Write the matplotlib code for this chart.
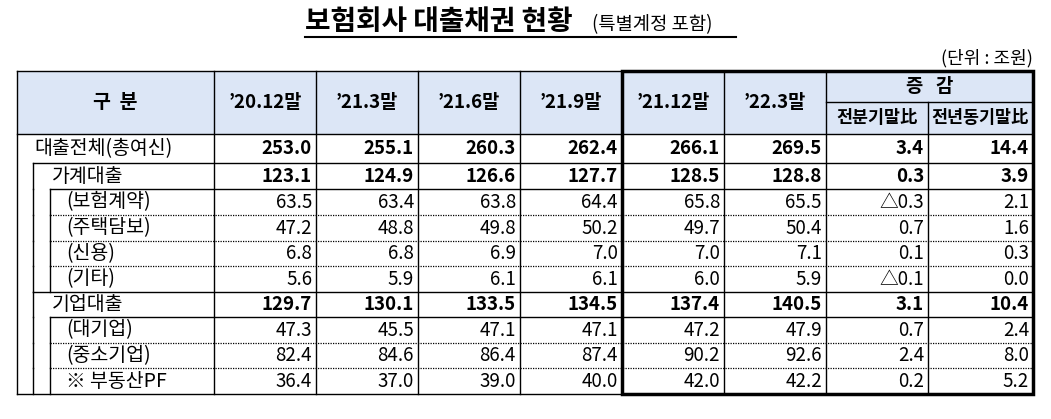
import matplotlib
matplotlib.use("Agg")
import matplotlib.pyplot as plt
from matplotlib.patches import Rectangle

plt.rcParams['font.family'] = ['Noto Sans CJK KR', 'DejaVu Sans']

periods = ["’20.12말", "’21.3말", "’21.6말", "’21.9말", "’21.12말", "’22.3말"]
change_labels = ["전분기말比", "전년동기말比"]
row_labels = ["대출전체(총여신)", "가계대출", "(보험계약)", "(주택담보)", "(신용)", "(기타)",
              "기업대출", "(대기업)", "(중소기업)", "※ 부동산PF"]
row_level = [0, 1, 2, 2, 2, 2, 1, 2, 2, 2]
values = [
    [253.0, 255.1, 260.3, 262.4, 266.1, 269.5, 3.4, 14.4],
    [123.1, 124.9, 126.6, 127.7, 128.5, 128.8, 0.3, 3.9],
    [63.5, 63.4, 63.8, 64.4, 65.8, 65.5, -0.3, 2.1],
    [47.2, 48.8, 49.8, 50.2, 49.7, 50.4, 0.7, 1.6],
    [6.8, 6.8, 6.9, 7.0, 7.0, 7.1, 0.1, 0.3],
    [5.6, 5.9, 6.1, 6.1, 6.0, 5.9, -0.1, 0.0],
    [129.7, 130.1, 133.5, 134.5, 137.4, 140.5, 3.1, 10.4],
    [47.3, 45.5, 47.1, 47.1, 47.2, 47.9, 0.7, 2.4],
    [82.4, 84.6, 86.4, 87.4, 90.2, 92.6, 2.4, 8.0],
    [36.4, 37.0, 39.0, 40.0, 42.0, 42.2, 0.2, 5.2],
]

fig = plt.figure(figsize=(10.51, 4.19), dpi=100)
ax = fig.add_axes([0, 0, 1, 1])
ax.set_xlim(0, 1051); ax.set_ylim(419, 0); ax.axis('off')

cols = [17, 214, 316, 418, 520, 622, 724, 826, 928, 1033]
ytop, ysub, yhead = 71, 102, 134
rows = [134, 163, 189, 215, 241, 266, 292, 317, 343, 368, 394]
indent = [17, 33, 50]
k = dict(color='black', lw=1.0)

ax.add_patch(Rectangle((cols[0], ytop), cols[-1]-cols[0], yhead-ytop, fc='#dce6f6', ec='none'))
ax.plot([cols[0], cols[-1]], [ytop, ytop], **k)
ax.plot([cols[0], cols[-1]], [yhead, yhead], **k)
for i, c in enumerate(cols):
    if i == 8:
        ax.plot([c, c], [ysub, rows[-1]], **k)
    else:
        ax.plot([c, c], [ytop, rows[-1]], **k)
ax.plot([cols[7], cols[9]], [ysub, ysub], **k)
ax.add_patch(Rectangle((cols[5], ytop), cols[9]-cols[5], rows[-1]-ytop, fc='none', ec='black', lw=2.5))

ax.text((cols[0]+cols[1])/2, (ytop+yhead)/2, "구  분", ha='center', va='center', fontsize=14, fontweight='bold')
for j, p in enumerate(periods):
    ax.text((cols[j+1]+cols[j+2])/2, (ytop+yhead)/2, p, ha='center', va='center', fontsize=13.5, fontweight='bold')
ax.text((cols[7]+cols[9])/2, (ytop+ysub)/2, "증   감", ha='center', va='center', fontsize=13.5, fontweight='bold')
for j, lab in enumerate(change_labels):
    ax.text((cols[7+j]+cols[8+j])/2, (ysub+yhead)/2, lab, ha='center', va='center', fontsize=12.5, fontweight='bold')

for r, (lab, lvl, vals) in enumerate(zip(row_labels, row_level, values)):
    y0, y1 = rows[r], rows[r+1]
    yc = (y0+y1)/2
    bold = lvl < 2
    if r > 0:
        if lvl == 2 and row_level[r-1] == 2:
            ax.plot([indent[2], cols[-1]], [y0, y0], color='black', lw=0.9, ls=(0, (1, 1)))
        else:
            ax.plot([indent[lvl], cols[-1]], [y0, y0], **k)
    if lvl >= 1:
        ax.plot([indent[1], indent[1]], [y0, y1], **k)
    if lvl == 2:
        ax.plot([indent[2], indent[2]], [y0, y1], **k)
    tx = [34, 52, 66][lvl]
    ax.text(tx, yc, lab, ha='left', va='center', fontsize=14)
    for j, v in enumerate(vals):
        s = f"△{abs(v):.1f}" if v < 0 else f"{v:.1f}"
        ax.text(cols[j+2]-4, yc, s, ha='right', va='center', fontsize=13.5,
                fontweight='bold' if bold else 'normal')
ax.plot([cols[0], cols[-1]], [rows[-1], rows[-1]], **k)

ax.text(305, 22, "보험회사 대출채권 현황", ha='left', va='center', fontsize=20, fontweight='bold')
ax.plot([305, 736], [37, 37], color='black', lw=1.5)
ax.text(592, 25, "(특별계정 포함)", ha='left', va='center', fontsize=13.5)
ax.text(1033, 58, "(단위 : 조원)", ha='right', va='center', fontsize=13)

fig.savefig("out.png", dpi=100)
